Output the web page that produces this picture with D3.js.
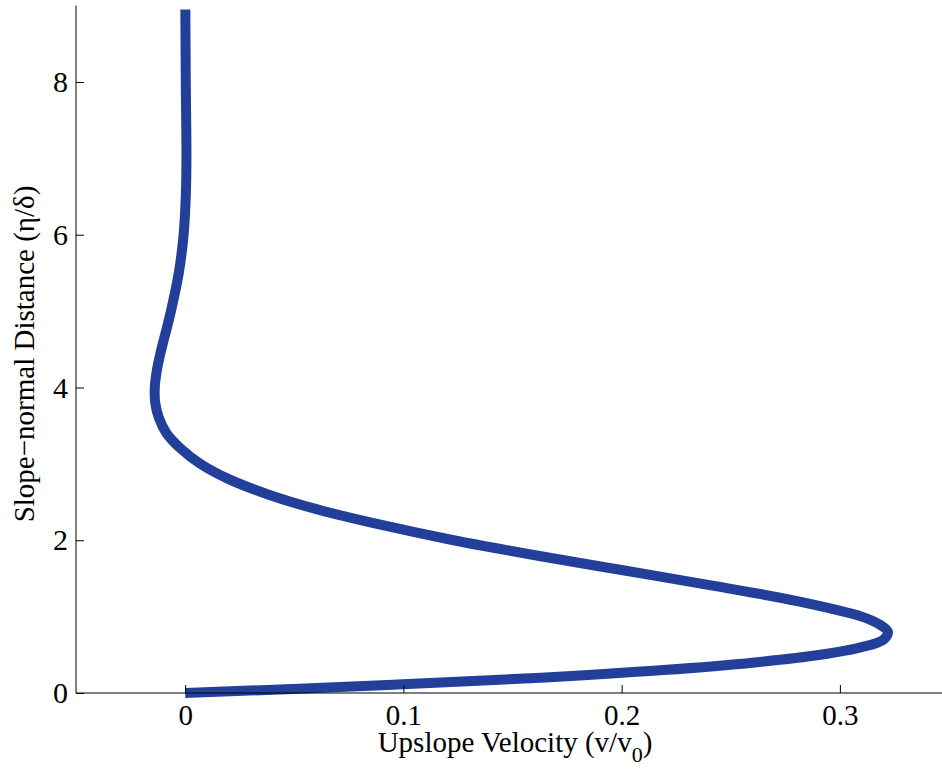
<!DOCTYPE html>
<html>
<head>
<meta charset="utf-8">
<script src="https://cdn.jsdelivr.net/npm/d3@7"></script>
<style>
  html, body { margin: 0; padding: 0; background: #fff; }
  svg { display: block; }
  text { font-family: "Liberation Serif", "Times New Roman", serif; fill: #000; }
</style>
</head>
<body>
<svg id="chart" width="942" height="769"></svg>
<script>
// Slope-normal distance (eta/delta)
const eta = [0, 0.1, 0.2, 0.3, 0.4, 0.5, 0.6, 0.7, 0.8, 0.9, 1.0, 1.2, 1.4, 1.6, 1.8, 2.0,
             2.2, 2.4, 2.6, 2.8, 3.0, 3.2, 3.4, 3.6, 3.8, 4.0, 4.2, 4.4, 4.6, 4.8, 5.0,
             5.5, 6.0, 6.5, 7.0, 8.0, 8.95];
// Upslope velocity (v/v0)
const velocity = [0, 0.090, 0.163, 0.219, 0.261, 0.291, 0.310, 0.320, 0.322, 0.318, 0.310,
                  0.281, 0.243, 0.202, 0.161, 0.123, 0.090, 0.061, 0.038, 0.020, 0.007,
                  -0.002, -0.0085, -0.012, -0.0137, -0.0139, -0.0131, -0.0117, -0.010,
                  -0.0082, -0.0065, -0.0029, -0.0007, 0.0003, 0.0006, 0.0003, 0.0001];
const xTicks = [0, 0.1, 0.2, 0.3];
const yTicks = [0, 2, 4, 6, 8];
const xLabel = "Upslope Velocity (v/v";
const xLabelSub = "0";
const yLabel = "Slope\u2212normal Distance (\u03b7/\u03b4)";

const svg = d3.select("#chart");
const x = d3.scaleLinear().domain([-0.05, 0.35]).range([76, 949]);
const y = d3.scaleLinear().domain([0, 9]).range([693, 5.6]);

// Curve
const pts = eta.map((e, i) => [velocity[i], e]);
const line = d3.line().x(d => x(d[0])).y(d => y(d[1])).curve(d3.curveCatmullRom.alpha(0.5));
svg.append("path").datum(pts)
  .attr("d", line)
  .attr("fill", "none")
  .attr("stroke", "#22409a")
  .attr("stroke-width", 10)
  .attr("stroke-linejoin", "round");

// X axis
const xAxis = svg.append("g").attr("transform", `translate(0,${y(0)})`)
  .call(d3.axisBottom(x).tickValues(xTicks).tickSize(-8).tickPadding(11)
        .tickFormat(d => d === 0 ? "0" : d3.format(".1f")(d)));
xAxis.select(".domain").attr("d", `M${x(-0.05)},0H942`).attr("stroke", "#000");
xAxis.selectAll(".tick line").attr("stroke", "#000");
xAxis.selectAll(".tick text").attr("font-size", 29).attr("dy", "0.71em")
  .style("font-family", "Liberation Serif");

// Y axis
const yAxis = svg.append("g").attr("transform", `translate(${x(-0.05)},0)`)
  .call(d3.axisLeft(y).tickValues(yTicks).tickSize(-8).tickPadding(8));
yAxis.select(".domain").attr("d", `M0,${y(9)}V${y(0)}`).attr("stroke", "#000");
yAxis.selectAll(".tick line").attr("stroke", "#000");
yAxis.selectAll(".tick text").attr("font-size", 30).style("font-family", "Liberation Serif");

// Axis labels
const xl = svg.append("text").attr("x", 515).attr("y", 752)
  .attr("text-anchor", "middle").attr("font-size", 29);
xl.append("tspan").text(xLabel);
xl.append("tspan").attr("font-size", 22).attr("dy", 10).text(xLabelSub);
xl.append("tspan").attr("dy", -10).text(")");

svg.append("text")
  .attr("transform", "translate(34,354) rotate(-90)")
  .attr("text-anchor", "middle").attr("font-size", 29)
  .text(yLabel);
</script>
</body>
</html>
